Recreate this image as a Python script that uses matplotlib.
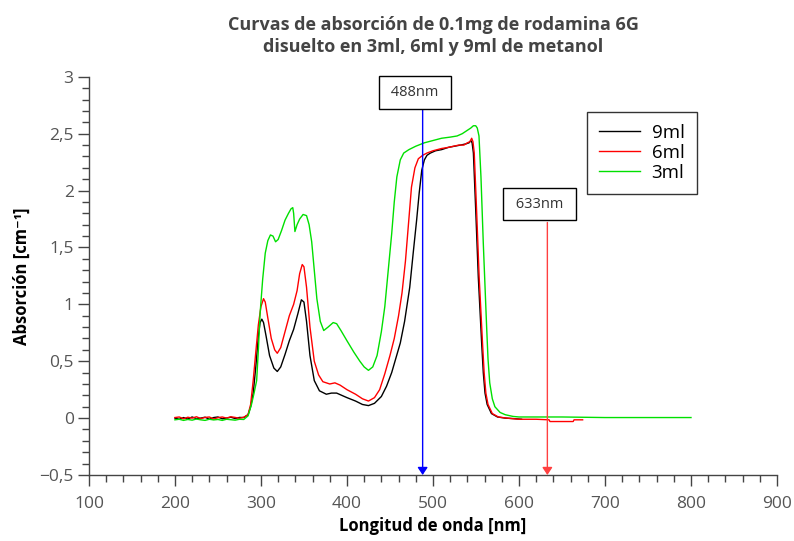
import numpy as np
import matplotlib
matplotlib.use('Agg')
import matplotlib.pyplot as plt
from matplotlib.ticker import MultipleLocator, FuncFormatter

plt.rcParams['font.family'] = ['Open Sans', 'DejaVu Sans']

# espectros de absorcion (longitud de onda en nm, absorcion en cm^-1)
wl_9ml = [200, 205, 210, 215, 220, 225, 230, 235, 240, 245, 250, 255, 260, 265, 270, 275, 280,
          285, 288, 291, 294, 297, 299, 301, 303, 306, 310, 315, 319, 323, 328, 333, 338, 343,
          347, 350, 353, 357, 362, 368, 376, 382, 388, 394, 400, 410, 418, 425, 432, 440, 446,
          452, 457, 462, 467, 473, 477, 481, 484, 487, 490, 493, 497, 503, 510, 518, 525, 532,
          538, 542, 544, 545.5, 547, 549.7, 552.7, 556.6, 558.5, 560.5, 563, 568, 575, 584, 595,
          603]
abs_9ml = [0.0, -0.01, 0.005, -0.008, 0.01, -0.005, 0.0, 0.008, -0.01, 0.005, 0.01, -0.006, 0.0,
           0.008, -0.004, 0.006, 0.005,
           0.03, 0.10, 0.22, 0.45, 0.72, 0.84, 0.87, 0.84, 0.72, 0.55, 0.44, 0.41, 0.45, 0.56, 0.68,
           0.78, 0.92, 1.04, 1.02, 0.85, 0.55, 0.33, 0.24, 0.21, 0.22, 0.22, 0.20, 0.18, 0.15, 0.12,
           0.11, 0.13, 0.19, 0.28, 0.40, 0.53, 0.66, 0.85, 1.15, 1.45, 1.74, 1.98, 2.18, 2.27, 2.31,
           2.33, 2.35, 2.36, 2.38, 2.39, 2.40, 2.41, 2.42, 2.44, 2.42, 2.33, 1.83, 1.24, 0.66, 0.40,
           0.22, 0.12, 0.04, 0.01, 0.0, -0.005, -0.01]

wl_6ml = [200, 205, 210, 215, 220, 225, 230, 235, 240, 245, 250, 255, 260, 265, 270, 275, 280,
          285, 288, 291, 294, 297, 300, 303, 305, 308, 312, 316, 319, 323, 328, 333, 338, 342,
          345, 348, 350, 353, 357, 362, 367, 372, 380, 386, 392, 400, 410, 418, 425, 432, 438,
          444, 450, 455, 460, 464, 468, 472, 475, 479, 483, 488, 493, 500, 510, 518, 524, 530,
          536, 540, 543, 545, 546.5, 548, 550.7, 553.7, 557.6, 559.5, 561.5, 564, 569, 576, 586,
          600, 620, 635, 636, 663, 664, 674]
abs_6ml = [0.005, 0.01, -0.006, 0.008, 0.0, 0.012, -0.004, 0.006, 0.01, -0.008, 0.004, 0.01,
           0.0, 0.012, 0.006, -0.002, 0.008,
           0.03, 0.12, 0.33, 0.58, 0.82, 0.98, 1.05, 1.02, 0.88, 0.70, 0.60, 0.57, 0.62, 0.76, 0.90,
           1.00, 1.12, 1.27, 1.35, 1.33, 1.15, 0.80, 0.50, 0.38, 0.32, 0.30, 0.31, 0.29, 0.25, 0.21,
           0.17, 0.15, 0.18, 0.25, 0.39, 0.55, 0.70, 0.90, 1.10, 1.38, 1.75, 2.03, 2.20, 2.28, 2.31,
           2.33, 2.35, 2.37, 2.38, 2.39, 2.40, 2.40, 2.42, 2.43, 2.46, 2.43, 2.33, 1.83, 1.24, 0.66,
           0.40, 0.22, 0.12, 0.04, 0.01, 0.0, -0.01, -0.01, -0.015, -0.03, -0.03, -0.015, -0.015]

wl_3ml = [200, 205, 210, 215, 220, 225, 230, 235, 240, 245, 250, 255, 260, 265, 270, 275, 280,
          285, 289, 292, 295, 297, 299, 302, 305, 308, 311, 314, 317, 320, 324, 328, 332, 335,
          337, 338, 339.5, 342, 345, 349, 353, 356, 359, 362, 365, 369, 373, 378, 384, 388, 393,
          400, 408, 415, 420, 425, 430, 435, 440, 444, 448, 452, 455, 458, 462, 466, 472, 480,
          490, 500, 510, 520, 528, 534, 540, 544, 547, 549.7, 551.5, 553.5, 555.8, 558.5, 562.4,
          564, 566, 569, 572, 578, 584, 593, 600, 650, 700, 750, 800]
abs_3ml = [-0.015, -0.01, -0.02, -0.012, -0.018, -0.008, -0.015, -0.02, -0.01, -0.016, -0.012,
           -0.02, -0.01, -0.014, -0.018, -0.01, -0.012,
           0.02, 0.12, 0.22, 0.33, 0.60, 0.92, 1.22, 1.45, 1.56, 1.61, 1.60, 1.55, 1.57, 1.65, 1.74,
           1.80, 1.84, 1.85, 1.80, 1.64, 1.70, 1.75, 1.79, 1.78, 1.70, 1.55, 1.30, 1.05, 0.85, 0.77,
           0.80, 0.84, 0.83, 0.77, 0.68, 0.58, 0.50, 0.45, 0.42, 0.45, 0.55, 0.76, 0.98, 1.30, 1.62,
           1.90, 2.12, 2.27, 2.33, 2.36, 2.39, 2.42, 2.44, 2.46, 2.47, 2.48, 2.50, 2.53, 2.55, 2.57,
           2.57, 2.55, 2.48, 2.12, 1.54, 0.80, 0.52, 0.31, 0.17, 0.10, 0.05, 0.03, 0.015, 0.01,
           0.01, 0.005, 0.005, 0.005]

series = [('9ml', wl_9ml, abs_9ml, 'black'),
          ('6ml', wl_6ml, abs_6ml, '#ff0000'),
          ('3ml', wl_3ml, abs_3ml, '#00e000')]

# longitudes de onda de los laseres
laser_wl = [488, 633]
laser_colors = ['#0000ff', '#ff4040']
laser_box_y = [2.86, 1.88]
laser_line_top = [2.72, 1.72]

grey = '#444444'

fig = plt.figure(figsize=(7.94, 5.41), dpi=100)
ax = fig.add_axes([0.112, 0.122, 0.8666, 0.736])

for label, wl, ab, color in series:
    ax.plot(wl, ab, color=color, lw=1.0, label=label)

for wl, color, ybox, ytop in zip(laser_wl, laser_colors, laser_box_y, laser_line_top):
    ax.annotate('', xy=(wl, -0.5), xytext=(wl, ytop),
                arrowprops=dict(arrowstyle='-|>,head_length=0.45,head_width=0.3',
                                color=color, lw=1.0, shrinkA=0, shrinkB=0))
    ax.text(wl - 9, ybox, f' {wl}nm ', ha='center', va='center', fontsize=10.5, color='#333333',
            bbox=dict(boxstyle='square,pad=0.6', fc='white', ec='black', lw=1.0))

ax.set_xlim(100, 900)
ax.set_ylim(-0.5, 3)
ax.xaxis.set_major_locator(MultipleLocator(100))
ax.xaxis.set_minor_locator(MultipleLocator(20))
ax.yaxis.set_major_locator(MultipleLocator(0.5))
ax.yaxis.set_minor_locator(MultipleLocator(0.1))
ax.yaxis.set_major_formatter(FuncFormatter(
    lambda v, p: ('%g' % v).replace('.', ',').replace('-', '\u2212')))

for side in ['top', 'right']:
    ax.spines[side].set_visible(False)
for side in ['left', 'bottom']:
    ax.spines[side].set_color(grey)
    ax.spines[side].set_linewidth(1.0)

ax.tick_params(which='major', direction='out', length=8, width=1.0, color=grey,
               labelsize=12.5, labelcolor='#555555', pad=3)
ax.tick_params(axis='x', which='major', pad=7)
ax.tick_params(which='minor', direction='out', length=5, width=1.0, color=grey)

ax.set_xlabel('Longitud de onda [nm]', fontsize=12, fontweight='bold', labelpad=4)
ax.set_ylabel('Absorción [cm\u207b\u00b9]', fontsize=12, fontweight='bold', labelpad=6)
ax.set_title('Curvas de absorción de 0.1mg de rodamina 6G\ndisuelto en 3ml, 6ml y 9ml de metanol',
             fontsize=13, fontweight='bold', color=grey, pad=18, linespacing=1.3)

leg = ax.legend(loc='upper left', bbox_to_anchor=(0.7238, 0.912), fontsize=13.5, frameon=True,
                fancybox=False, edgecolor='black', handlelength=2.2, labelspacing=0.1,
                borderpad=0.65, handletextpad=0.6, borderaxespad=0)
leg.get_frame().set_linewidth(1.0)

fig.savefig('out.png', dpi=100)
